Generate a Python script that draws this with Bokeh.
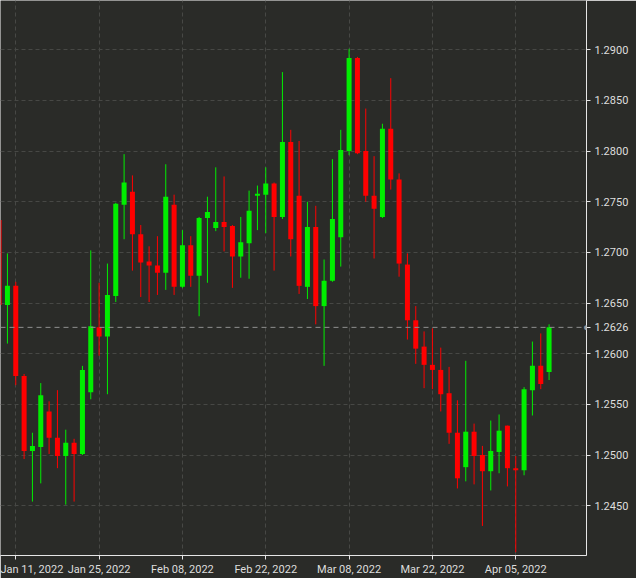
import pandas as pd
from bokeh.plotting import figure
from bokeh.models import ColumnDataSource, FixedTicker, PrintfTickFormatter, Span, Label
from bokeh.embed import file_html
from bokeh.resources import INLINE

# ---- data (USD/CAD-like daily candles) ----
dates = pd.bdate_range("2022-01-07", "2022-04-11")

opens = [1.2732, 1.2648, 1.2667, 1.2578, 1.2504, 1.2508, 1.2543, 1.2517, 1.2499, 1.2512,
         1.2501, 1.2562, 1.2626, 1.2617, 1.2657, 1.2747, 1.2760, 1.2718, 1.2691, 1.2687,
         1.2680, 1.2747, 1.2666, 1.2707, 1.2677, 1.2734, 1.2724, 1.2730, 1.2726, 1.2696,
         1.2709, 1.2756, 1.2757, 1.2768, 1.2735, 1.2809, 1.2756, 1.2666, 1.2725, 1.2647,
         1.2672, 1.2715, 1.2800, 1.2892, 1.2800, 1.2756, 1.2735, 1.2822, 1.2772, 1.2688,
         1.2633, 1.2607, 1.2589, 1.2584, 1.2561, 1.2522, 1.2488, 1.2523, 1.2500, 1.2484,
         1.2503, 1.2529, 1.2487, 1.2485, 1.2564, 1.2588, 1.2582]
highs = [1.2736, 1.2699, 1.2671, 1.2580, 1.2522, 1.2571, 1.2553, 1.2564, 1.2525, 1.2516,
         1.2588, 1.2702, 1.2670, 1.2689, 1.2749, 1.2797, 1.2776, 1.2727, 1.2706, 1.2716,
         1.2787, 1.2757, 1.2722, 1.2716, 1.2735, 1.2755, 1.2784, 1.2775, 1.2727, 1.2735,
         1.2761, 1.2766, 1.2784, 1.2769, 1.2878, 1.2821, 1.2810, 1.2750, 1.2746, 1.2693,
         1.2792, 1.2821, 1.2901, 1.2893, 1.2842, 1.2795, 1.2827, 1.2872, 1.2778, 1.2699,
         1.2647, 1.2622, 1.2625, 1.2606, 1.2587, 1.2554, 1.2593, 1.2531, 1.2509, 1.2534,
         1.2540, 1.2529, 1.2499, 1.2567, 1.2612, 1.2620, 1.2629]
lows = [1.2643, 1.2610, 1.2569, 1.2496, 1.2454, 1.2472, 1.2501, 1.2487, 1.2451, 1.2454,
        1.2500, 1.2555, 1.2598, 1.2560, 1.2651, 1.2713, 1.2682, 1.2656, 1.2651, 1.2658,
        1.2663, 1.2658, 1.2665, 1.2666, 1.2637, 1.2670, 1.2721, 1.2701, 1.2665, 1.2675,
        1.2674, 1.2722, 1.2719, 1.2682, 1.2733, 1.2696, 1.2659, 1.2654, 1.2629, 1.2588,
        1.2671, 1.2686, 1.2796, 1.2797, 1.2750, 1.2694, 1.2734, 1.2762, 1.2676, 1.2614,
        1.2590, 1.2566, 1.2565, 1.2543, 1.2511, 1.2467, 1.2474, 1.2471, 1.2430, 1.2465,
        1.2482, 1.2469, 1.2404, 1.2480, 1.2539, 1.2565, 1.2574]
closes = [1.2648, 1.2667, 1.2578, 1.2504, 1.2509, 1.2559, 1.2517, 1.2499, 1.2512, 1.2501,
          1.2584, 1.2627, 1.2617, 1.2658, 1.2748, 1.2769, 1.2718, 1.2690, 1.2687, 1.2680,
          1.2755, 1.2666, 1.2707, 1.2677, 1.2734, 1.2740, 1.2730, 1.2725, 1.2696, 1.2710,
          1.2741, 1.2758, 1.2768, 1.2735, 1.2809, 1.2713, 1.2667, 1.2725, 1.2647, 1.2672,
          1.2733, 1.2801, 1.2892, 1.2798, 1.2756, 1.2743, 1.2822, 1.2772, 1.2689, 1.2633,
          1.2605, 1.2589, 1.2584, 1.2560, 1.2522, 1.2477, 1.2523, 1.2499, 1.2484, 1.2504,
          1.2524, 1.2487, 1.2485, 1.2565, 1.2588, 1.2570, 1.2626]

tick_dates = ["2022-01-11", "2022-01-25", "2022-02-08", "2022-02-22",
              "2022-03-08", "2022-03-22", "2022-04-05"]
price_ticks = [1.2450, 1.2500, 1.2550, 1.2600, 1.2650, 1.2700,
               1.2750, 1.2800, 1.2850, 1.2900]
last_price = 1.2626

# ---- styling ----
BG = "#2a2b28"
UP = "#00ee00"
DOWN = "#ff0000"
GRID = "#474845"
AXIS = "#e6e6e6"
LABEL = "#dedede"
FONT = "Roboto"
FRAME_W, FRAME_H = 586, 555

idx = list(range(len(dates)))
colors = [UP if c >= o else DOWN for o, c in zip(opens, closes)]
src = ColumnDataSource(dict(
    x=idx, open=opens, high=highs, low=lows, close=closes,
    top=[max(o, c) for o, c in zip(opens, closes)],
    bottom=[min(o, c) for o, c in zip(opens, closes)],
    color=colors,
))

X0, X1 = 0.168, 70.49
p = figure(frame_width=FRAME_W, frame_height=FRAME_H,
           x_range=(X0, X1), y_range=(1.24008, 1.294867),
           y_axis_location="right",
           output_backend="svg", toolbar_location=None,
           background_fill_color=BG, border_fill_color=BG,
           min_border_left=0, min_border_top=0,
           min_border_right=50, min_border_bottom=23,
           outline_line_color=None)

p.segment(x0="x", y0="low", x1="x", y1="high", line_color="color",
          line_width=1, source=src)
p.vbar(x="x", width=0.6, top="top", bottom="bottom", fill_color="color",
       line_color=None, source=src)

# last price line and marker on the axis
p.add_layout(Span(location=last_price, dimension="width", line_color="#8f8f8f",
                  line_dash="5 4", line_width=1))
p.add_layout(Label(x=FRAME_W, x_units="screen", y=last_price, text="●",
                   text_align="center", text_baseline="middle",
                   text_color="#9a9a9a", text_font_size="12px", level="overlay"))

# x axis: trading-day index with date labels
tick_pos = [dates.get_loc(pd.Timestamp(d)) for d in tick_dates]
p.xaxis.ticker = FixedTicker(ticks=tick_pos)
p.xaxis.major_label_overrides = {i: pd.Timestamp(d).strftime("%b %d, %Y")
                                 for i, d in zip(tick_pos, tick_dates)}

# y axis
p.yaxis.ticker = FixedTicker(ticks=price_ticks + [last_price])
p.yaxis.formatter = PrintfTickFormatter(format="%.4f")
p.ygrid[0].ticker = FixedTicker(ticks=price_ticks)

for ax in (p.xaxis[0], p.yaxis[0]):
    ax.axis_line_color = AXIS
    ax.axis_line_width = 1
    ax.major_tick_line_color = AXIS
    ax.major_tick_in = 0
    ax.major_tick_out = 4
    ax.minor_tick_line_color = None
    ax.major_label_text_color = LABEL
    ax.major_label_text_font = FONT
    ax.major_label_text_font_size = "11px"
p.xaxis.major_label_standoff = 3
p.yaxis.major_label_standoff = 4

for g in (p.xgrid[0], p.ygrid[0]):
    g.grid_line_color = GRID
    g.grid_line_dash = "4 3"
    g.grid_line_width = 1

open("out.html", "w").write(file_html(p, INLINE))
